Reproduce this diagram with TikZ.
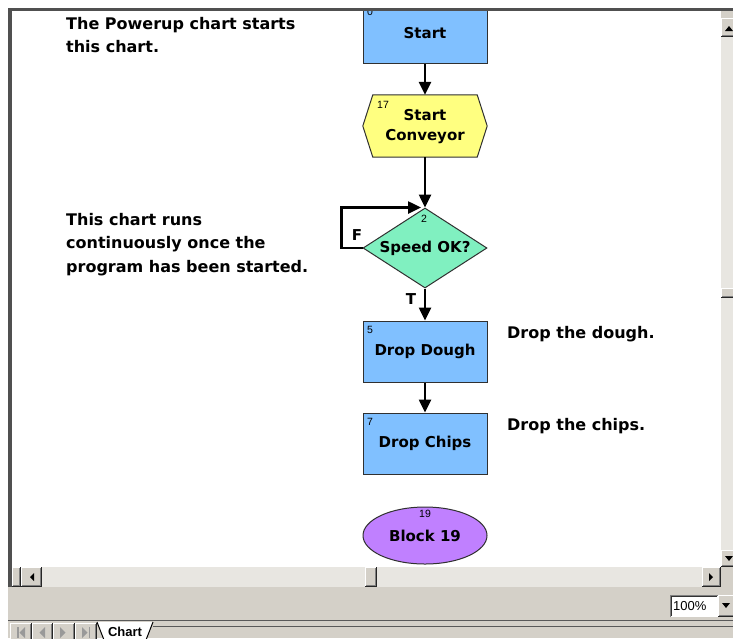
\documentclass[tikz,border=0pt]{standalone}
\usepackage{fontspec}
\setmainfont{DejaVu Sans}
\newfontfamily\uifont{Liberation Sans}
\usetikzlibrary{arrows.meta,shapes.geometric}
\definecolor{winbg}{HTML}{D4D0C8}
\definecolor{track}{HTML}{E8E6E1}
\definecolor{boxblue}{HTML}{80C0FF}
\definecolor{boxyellow}{HTML}{FFFF80}
\definecolor{boxgreen}{HTML}{80F0C0}
\definecolor{boxpurple}{HTML}{C080FF}
\definecolor{edge}{HTML}{303030}
\definecolor{frame}{HTML}{505050}
\newcommand\winbtn[4]{%
  \fill[winbg] (#1,#2) rectangle (#3,#4);
  \draw[white, line width=1pt] (#1+0.5,#4-1) -- (#1+0.5,#2+0.5) -- (#3-1,#2+0.5);
  \draw[gray, line width=1pt] (#1+1,#4-1.5) -- (#3-1.5,#4-1.5) -- (#3-1.5,#2+1);
  \draw[black!85, line width=1pt] (#1,#4-0.5) -- (#3-0.5,#4-0.5) -- (#3-0.5,#2);
}
\begin{document}
\begin{tikzpicture}[x=1pt,y=-1pt,
  block/.style={draw=edge, line width=1pt, fill=boxblue, minimum width=124pt,
    minimum height=61pt, inner sep=0pt, font=\fontsize{15}{20}\selectfont\bfseries, align=center},
  num/.style={font=\uifont\fontsize{10.5}{11}\selectfont, inner sep=0pt},
  note/.style={font=\fontsize{16}{23.5}\selectfont\bfseries, inner sep=0pt, anchor=base west, align=left},
  lbl/.style={font=\fontsize{15}{16}\selectfont\bfseries, inner sep=0pt},
  flow/.style={line width=2.5pt, draw=black, -{Triangle[length=13pt,width=12pt]}},
]
\useasboundingbox (0,0) rectangle (733,638);
% window background
\fill[white] (0,0) rectangle (733,638);
\fill[winbg] (8,8) rectangle (733,638);
\fill[white] (12,11) rectangle (721,567);
\fill[frame] (8,8) rectangle (733,11);
\fill[frame] (8,8) rectangle (12,587);

% chart content
\begin{scope}
\clip (12,11) rectangle (721,567);
\node[block] (start) at (425,33) {Start};
\node[num, anchor=north west] (n0) at (367,8) {0};

\node[minimum width=124pt, minimum height=62pt, inner sep=0pt] (conv) at (425,126) {};
\draw[draw=edge, line width=1pt, fill=boxyellow]
  (conv.west) -- ([xshift=10pt]conv.north west) -- ([xshift=-10pt]conv.north east)
  -- (conv.east) -- ([xshift=-10pt]conv.south east) -- ([xshift=10pt]conv.south west) -- cycle;
\node[font=\fontsize{15}{20}\selectfont\bfseries, align=center, inner sep=0pt] (convt) at (425,127) {Start\\Conveyor};
\node[num, anchor=north west] (n17) at (377,101) {17};

\node[diamond, draw=edge, line width=1pt, fill=boxgreen, minimum width=124pt, minimum height=80pt,
  aspect=1.55, inner sep=0pt, font=\fontsize{15}{20}\selectfont\bfseries] (dec) at (425,248) {Speed OK?};
\node[num] (n2) at (424,219) {2};

\node[block] (dough) at (425,351.5) {Drop Dough};
\node[num, anchor=north west] (n5) at (367,326) {5};

\node[block] (chips) at (425,443.5) {Drop Chips};
\node[num, anchor=north west] (n7) at (367,418) {7};

\node[ellipse, draw=edge, line width=1pt, fill=boxpurple, minimum width=124pt, minimum height=57pt,
  inner sep=0pt, font=\fontsize{15}{20}\selectfont\bfseries] (blk) at (425,535.5) {Block 19};
\node[num] (n19) at (425,514) {19};

\draw[flow] (start) -- (conv);
\draw[flow] (conv) -- (dec);
\draw[flow] (dec.west) -- ++(-21,0) |- ([xshift=-4pt]dec.north);
\node[lbl] (F) at (357,235) {F};
\draw[flow] (dec) -- (dough);
\node[lbl] (T) at (411,299) {T};
\draw[flow] (dough) -- (chips);

\node[note] (c1) at (66,52.5) {The Powerup chart starts\\this chart.};
\node[note] (c2) at (66,272) {This chart runs\\continuously once the\\program has been started.};
\node[note] (c3) at (507,338) {Drop the dough.};
\node[note] (c4) at (507,430) {Drop the chips.};
\end{scope}

% vertical scrollbar
\fill[track] (721,11) rectangle (733,567);
\fill[winbg] (721,11) rectangle (733,18);
\winbtn{721}{18}{737}{37}
\fill (725,31) -- (733,31) -- (729,26) -- cycle;
\winbtn{721}{288}{737}{298}
\winbtn{721}{550}{737}{567}
\fill (725,556) -- (733,556) -- (729,561) -- cycle;

% horizontal scrollbar
\fill[track] (12,567) rectangle (721,587);
\winbtn{12}{567}{21}{587}
\winbtn{21}{567}{42}{587}
\fill (34,573) -- (34,581) -- (30,577) -- cycle;
\winbtn{365}{567}{377}{587}
\winbtn{702}{567}{721}{587}
\fill (709,573) -- (709,581) -- (713,577) -- cycle;
\fill[winbg] (721,567) rectangle (733,587);

% status area
\fill[white] (670,595) rectangle (718,617);
\draw[gray, line width=1pt] (670.5,617) -- (670.5,595.5) -- (718,595.5);
\draw[black!80, line width=1pt] (671.5,616) -- (671.5,596.5) -- (717,596.5);
\node[font=\uifont\fontsize{13}{14}\selectfont, inner sep=0pt, anchor=west] (zoomtxt) at (673,606.5) {100\%};
\winbtn{718}{595}{737}{617}
\fill (722,603) -- (730,603) -- (726,608) -- cycle;

% tab bar
\draw[gray!70!black, line width=1.5pt] (8,620.5) -- (733,620.5);
\winbtn{10}{623}{32}{642}
\winbtn{32}{623}{53}{642}
\winbtn{53}{623}{75}{642}
\winbtn{75}{623}{97}{642}
\begin{scope}[gray!80]
\fill (17,627) rectangle (18.5,638);
\fill (25,627) -- (25,638) -- (19.5,632.5) -- cycle;
\fill (45,627) -- (45,638) -- (39.5,632.5) -- cycle;
\fill (60,627) -- (60,638) -- (65.5,632.5) -- cycle;
\fill (82,627) -- (82,638) -- (87.5,632.5) -- cycle;
\fill (88.5,627) rectangle (90,638);
\end{scope}
\fill[white] (97,622) -- (104,640) -- (146,640) -- (153,622) -- cycle;
\draw[black, line width=1pt] (97,622) -- (104,640);
\draw[black, line width=1pt] (153,622) -- (146,640);
\draw[gray!70!black, line width=1pt] (153,626) -- (733,626);
\node[font=\uifont\fontsize{13}{14}\selectfont\bfseries, inner sep=0pt] (tab) at (125,631.5) {Chart};
\end{tikzpicture}
\end{document}
